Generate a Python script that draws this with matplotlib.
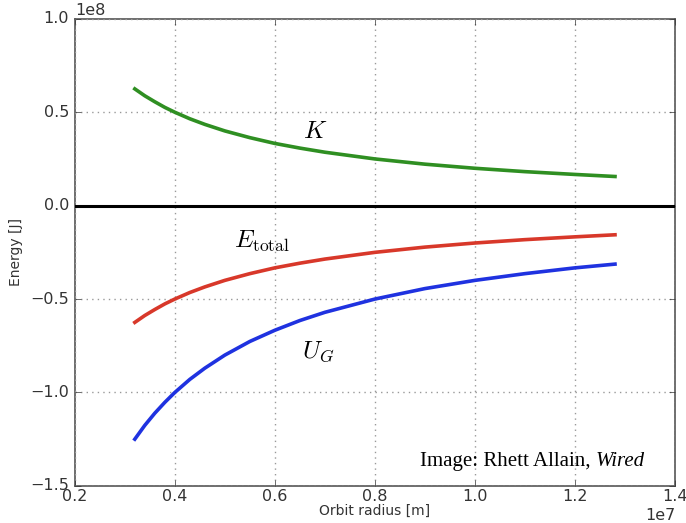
import numpy as np
import matplotlib.pyplot as plt
import matplotlib as mpl

mpl.style.use("classic")
mpl.rc("font", family="DejaVu Sans")

# orbit radius [1e7 m] and energies [1e8 J]
radius = [0.32, 0.34, 0.36, 0.38, 0.40, 0.43, 0.46, 0.50, 0.55, 0.60, 0.65, 0.70, 0.80, 0.90, 1.00, 1.10, 1.20, 1.28]
kinetic = [0.625, 0.588, 0.556, 0.526, 0.500, 0.465, 0.435, 0.400, 0.364, 0.333, 0.308, 0.286, 0.250, 0.222, 0.200, 0.182, 0.167, 0.156]
total = [-0.625, -0.588, -0.556, -0.526, -0.500, -0.465, -0.435, -0.400, -0.364, -0.333, -0.308, -0.286, -0.250, -0.222, -0.200, -0.182, -0.167, -0.156]
potential = [-1.250, -1.176, -1.111, -1.053, -1.000, -0.930, -0.870, -0.800, -0.727, -0.667, -0.615, -0.571, -0.500, -0.444, -0.400, -0.364, -0.333, -0.313]

r = np.array(radius) * 1e7

fig = plt.figure(figsize=(6.86, 5.23), dpi=100, facecolor="white")
ax = fig.add_axes([0.109, 0.071, 0.875, 0.893])

ax.plot(r, np.array(kinetic) * 1e8, color="#2f8f22", lw=2.6, zorder=3)
ax.plot(r, np.array(total) * 1e8, color="#d8382a", lw=2.6, zorder=3)
ax.plot(r, np.array(potential) * 1e8, color="#1f32e0", lw=2.6, zorder=3)
ax.axhline(0, color="black", lw=2.2, zorder=3)

ax.text(0.68e7, 0.40e8, r"$K$", fontsize=18, ha="center", va="center")
ax.text(0.574e7, -0.19e8, r"$E_{\rm total}$", fontsize=18, ha="center", va="center")
ax.text(0.686e7, -0.78e8, r"$U_G$", fontsize=18, ha="center", va="center")
credit = ax.text(0.89e7, -1.37e8, "Image: Rhett Allain, ", fontsize=15, family="Liberation Serif", ha="left", va="center")
ax.annotate("Wired", xy=(1, 0.5), xycoords=credit, fontsize=15, family="Liberation Serif",
            style="italic", ha="left", va="center")

ax.set_xlim(0.2e7, 1.4e7)
ax.set_ylim(-1.5e8, 1.0e8)
ax.set_xticks(np.arange(0.2e7, 1.41e7, 0.2e7))
ax.set_yticks(np.arange(-1.5e8, 1.01e8, 0.5e8))
ax.tick_params(labelsize=11.5, colors="#333333")
ax.tick_params(axis="x", pad=2)
ax.grid(True, linestyle=":", color="#999999", lw=1)
for sp in ax.spines.values():
    sp.set_color("#555555")
    sp.set_linewidth(1.2)
ax.xaxis.get_offset_text().set_fontsize(11.5)
ax.yaxis.get_offset_text().set_fontsize(11.5)

ax.set_xlabel("Orbit radius [m]", fontsize=10, color="#333333", labelpad=0)
ax.set_ylabel("Energy [J]", fontsize=10, color="#333333")

fig.savefig("out.png", dpi=100, facecolor="white")
